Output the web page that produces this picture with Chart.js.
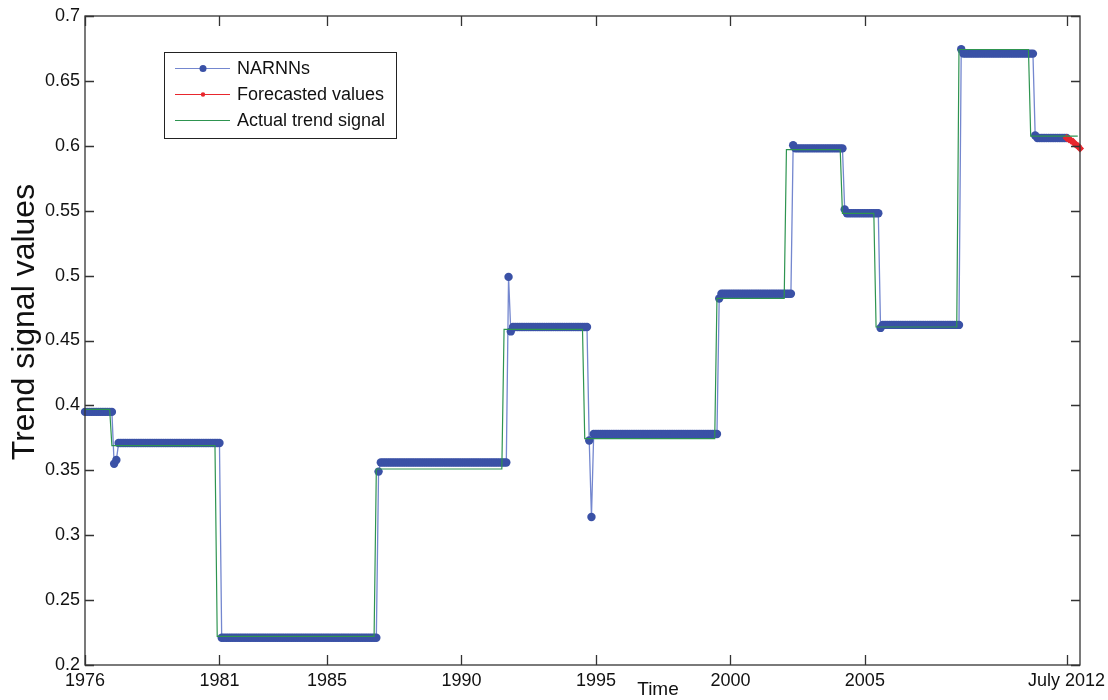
<!DOCTYPE html>
<html>
<head>
<meta charset="utf-8">
<script src="https://cdn.jsdelivr.net/npm/chart.js@4.4.0/dist/chart.umd.min.js"></script>
<style>
  html, body { margin: 0; padding: 0; background: #fff; }
  #wrap { width: 1108px; height: 700px; }
</style>
</head>
<body>
<div id="wrap"><canvas id="chart-area" width="1108" height="700"></canvas></div>
<script>
// monthly series from Jan 1976, stored as runs: months at each level
var narMonths = [13, 1, 1, 46, 70, 1, 57, 1, 1, 34, 1, 1, 56, 1, 32, 1, 22, 1, 15, 1, 35, 1, 32, 1, 14];
var narLevels = [0.395, 0.355, 0.358, 0.371, 0.221, 0.349, 0.356, 0.499, 0.457, 0.4604, 0.373, 0.314, 0.378,
                 0.4824, 0.486, 0.6004, 0.598, 0.551, 0.548, 0.4597, 0.462, 0.6744, 0.671, 0.608, 0.606];
var actualMonths = [12, 47, 71, 57, 36, 59, 31, 25, 15, 37, 32, 22];
var actualLevels = [0.397, 0.369, 0.222, 0.351, 0.4586, 0.3744, 0.4824, 0.597, 0.548, 0.4604, 0.6742, 0.6075];
var forecastStart = 438; // July 2012, months after Jan 1976
var forecastValues = [0.606, 0.605, 0.604, 0.603, 0.601, 0.600, 0.598];
var tickYears = [1976, 1981, 1985, 1990, 1995, 2000, 2005, 2012.5];
var tickLabels = ['1976', '1981', '1985', '1990', '1995', '2000', '2005', 'July 2012'];

function expand(months, levels) {
    var pts = [], m = 0;
    for (var i = 0; i < months.length; i++) {
        for (var k = 0; k < months[i]; k++) {
            pts.push({x: 1976 + m / 12, y: levels[i]});
            m++;
        }
    }
    return pts;
}

var forecastPts = forecastValues.map(function (v, i) {
    return {x: 1976 + (forecastStart + i) / 12, y: v};
});

var BLUE = '#3a51a6', BLUE_LINE = '#7487cf', RED = '#e8262d', GREEN = '#2e9450';
var sans = "'Liberation Sans', Arial, sans-serif";

var frame = {
    id: 'frame',
    afterDraw: function (chart) {
        var c = chart.ctx, a = chart.chartArea;
        var xs = chart.scales.x, ys = chart.scales.y;
        c.save();
        c.strokeStyle = '#333';
        c.lineWidth = 1.3;
        c.strokeRect(a.left, a.top, a.right - a.left, a.bottom - a.top);
        c.beginPath();
        tickYears.forEach(function (t) {
            var px = Math.round(xs.getPixelForValue(t)) + 0.5;
            c.moveTo(px, a.bottom); c.lineTo(px, a.bottom - 10);
            c.moveTo(px, a.top); c.lineTo(px, a.top + 10);
        });
        ys.ticks.forEach(function (t) {
            var py = Math.round(ys.getPixelForValue(t.value)) + 0.5;
            c.moveTo(a.left, py); c.lineTo(a.left + 9, py);
            c.moveTo(a.right, py); c.lineTo(a.right - 9, py);
        });
        c.stroke();

        // legend box
        c.fillStyle = '#fff';
        c.fillRect(164.5, 52.5, 232, 86);
        c.lineWidth = 1;
        c.strokeStyle = '#222';
        c.strokeRect(164.5, 52.5, 232, 86);
        var rows = [
            {y: 68, color: BLUE_LINE, dot: BLUE, r: 3.5, text: 'NARNNs'},
            {y: 94, color: RED, dot: RED, r: 2.2, text: 'Forecasted values'},
            {y: 120, color: GREEN, dot: null, r: 0, text: 'Actual trend signal'}
        ];
        c.font = '18px ' + sans;
        c.textBaseline = 'middle';
        c.textAlign = 'left';
        rows.forEach(function (r) {
            c.strokeStyle = r.color;
            c.lineWidth = 1.2;
            c.beginPath(); c.moveTo(175, r.y + 0.5); c.lineTo(230, r.y + 0.5); c.stroke();
            if (r.dot) {
                c.fillStyle = r.dot;
                c.beginPath(); c.arc(203, r.y + 0.5, r.r, 0, Math.PI * 2); c.fill();
            }
            c.fillStyle = '#111';
            c.fillText(r.text, 237, r.y + 1);
        });

        // axis titles
        c.fillStyle = '#111';
        c.font = '19px ' + sans;
        c.textAlign = 'center';
        c.fillText('Time', 658, 690);
        c.translate(25, 322);
        c.rotate(-Math.PI / 2);
        c.font = '32px ' + sans;
        c.fillText('Trend signal values', 0, 0);
        c.restore();
    }
};

var config = {
    type: 'line',
    data: {
        datasets: [{
            label: 'Actual trend signal',
            data: expand(actualMonths, actualLevels),
            borderColor: GREEN,
            borderWidth: 1.2,
            pointRadius: 0,
            order: 0
        }, {
            label: 'Forecasted values',
            data: forecastPts,
            borderColor: RED,
            backgroundColor: RED,
            borderWidth: 1.5,
            pointStyle: 'rectRot',
            pointRadius: 3,
            order: 1,
            clip: 6
        }, {
            label: 'NARNNs',
            data: expand(narMonths, narLevels),
            borderColor: BLUE_LINE,
            backgroundColor: BLUE,
            pointBorderColor: BLUE,
            pointBorderWidth: 0,
            borderWidth: 1.3,
            pointRadius: 4.2,
            order: 2,
            clip: 6
        }]
    },
    options: {
        responsive: false,
        animation: false,
        layout: {padding: {top: 16, right: 28, left: 0, bottom: 0}},
        plugins: {legend: {display: false}, tooltip: {enabled: false}},
        scales: {
            x: {
                type: 'linear',
                min: 1976,
                max: 2013,
                afterFit: function (s) {
                    s.height = 35;
                    s.paddingLeft = 0;
                    s.paddingRight = 0;
                },
                afterBuildTicks: function (s) {
                    s.ticks = tickYears.map(function (v) { return {value: v}; });
                },
                grid: {display: false, drawTicks: false},
                border: {display: false},
                ticks: {
                    autoSkip: false,
                    maxRotation: 0,
                    padding: 5,
                    color: '#111',
                    font: {family: sans, size: 18},
                    callback: function (v) { return tickLabels[tickYears.indexOf(v)]; }
                }
            },
            y: {
                min: 0.2,
                max: 0.7,
                afterFit: function (s) {
                    s.width = 85;
                    s.paddingTop = 0;
                    s.paddingBottom = 0;
                },
                grid: {display: false, drawTicks: false},
                border: {display: false},
                ticks: {
                    stepSize: 0.05,
                    padding: 5,
                    color: '#111',
                    font: {family: sans, size: 18},
                    callback: function (v) { return String(Number(v.toFixed(2))); }
                }
            }
        }
    },
    plugins: [frame]
};

window.onload = function () {
    var ctx = document.getElementById('chart-area').getContext('2d');
    window.myLine = new Chart(ctx, config);
};
</script>
</body>
</html>
